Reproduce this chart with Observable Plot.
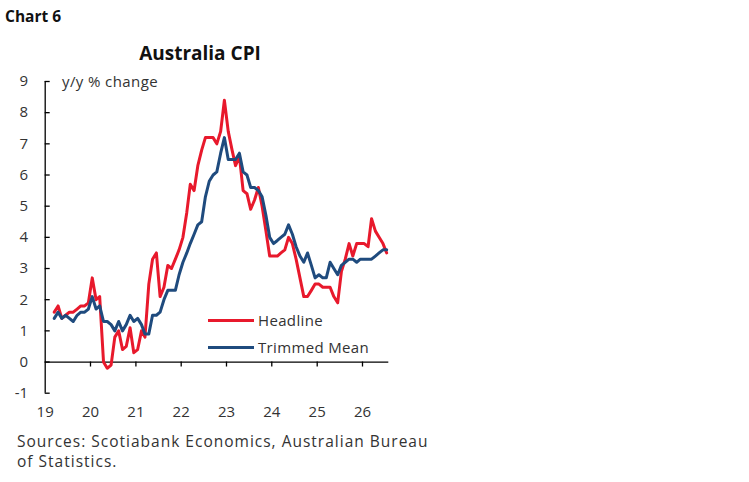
<!DOCTYPE html>
<html>
<head>
<meta charset="utf-8">
<script src="https://cdn.jsdelivr.net/npm/d3@7"></script>
<script src="https://cdn.jsdelivr.net/npm/@observablehq/plot@0.6"></script>
<style>
  html, body { margin: 0; padding: 0; background: #fff; }
  #wrap { position: relative; width: 749px; height: 482px; font-family: "Open Sans", sans-serif; color: #333; }
  #wrap svg.plot { position: absolute; left: 0; top: 0; }
  .abs { position: absolute; white-space: nowrap; }
  #chartno { left: 5px; top: 5px; font-weight: 700; font-size: 15.5px; color: #111; }
  #title { left: 0; width: 400px; top: 40px; text-align: center; font-weight: 700; font-size: 19px; color: #111; }
  #unit { left: 62px; top: 71px; font-size: 15px; letter-spacing: 0.4px; color: #333; }
  #source { left: 17px; top: 431px; font-size: 15.5px; letter-spacing: 1px; line-height: 20px; color: #333; }
  .leg { font-size: 15px; letter-spacing: 0.35px; color: #333; display: flex; align-items: center; }
  .leg span.sw { display: inline-block; width: 46px; height: 3px; margin-right: 4px; }
</style>
</head>
<body>
<div id="wrap">
  <div class="abs" id="chartno">Chart 6</div>
  <div class="abs" id="title">Australia CPI</div>
  <div class="abs" id="unit">y/y % change</div>
  <div class="abs leg" id="leg1" style="left:208px; top:310px;"><span class="sw" style="background:#E8192C"></span>Headline</div>
  <div class="abs leg" id="leg2" style="left:208px; top:337px;"><span class="sw" style="background:#1F4B7E"></span>Trimmed Mean</div>
  <div class="abs" id="source">Sources: Scotiabank Economics, Australian Bureau<br>of Statistics.</div>
</div>
<script>
// Monthly series, first observation March 2019
const startYear = 2019;
const startMonth = 2; // 0-based month index (March)
const headline = [
  1.6, 1.8, 1.4, 1.5, 1.6, 1.6, 1.7, 1.8, 1.8, 1.9,
  2.7, 2.0, 2.1, 0.0, -0.2, -0.1, 0.8, 1.0, 0.4, 0.5,
  1.1, 0.3, 0.4, 1.0, 0.8, 2.5, 3.3, 3.5, 2.1, 2.4,
  3.1, 3.0, 3.3, 3.6, 4.0, 4.8, 5.7, 5.5, 6.3, 6.8,
  7.2, 7.2, 7.2, 7.0, 7.4, 8.4, 7.4, 6.8, 6.3, 6.6,
  5.5, 5.4, 4.9, 5.2, 5.6, 5.0, 4.2, 3.4, 3.4, 3.4,
  3.5, 3.6, 4.0, 3.8, 3.3, 2.7, 2.1, 2.1, 2.3, 2.5,
  2.5, 2.4, 2.4, 2.4, 2.1, 1.9, 2.9, 3.3, 3.8, 3.4,
  3.8, 3.8, 3.8, 3.7, 4.6, 4.2, 4.0, 3.8, 3.5
];
const trimmedMean = [
  1.4, 1.6, 1.4, 1.5, 1.4, 1.3, 1.5, 1.6, 1.6, 1.7,
  2.1, 1.7, 1.8, 1.3, 1.3, 1.2, 1.0, 1.3, 1.0, 1.2,
  1.5, 1.3, 1.4, 1.2, 0.9, 0.9, 1.5, 1.5, 1.6, 2.0,
  2.3, 2.3, 2.3, 2.8, 3.2, 3.5, 3.8, 4.1, 4.4, 4.5,
  5.3, 5.8, 6.0, 6.1, 6.7, 7.2, 6.5, 6.5, 6.5, 6.7,
  6.1, 6.0, 5.6, 5.6, 5.5, 5.3, 4.7, 4.0, 3.8, 3.9,
  4.0, 4.1, 4.4, 4.1, 3.7, 3.4, 3.2, 3.5, 3.1, 2.7,
  2.8, 2.7, 2.7, 3.2, 3.0, 2.8, 3.1, 3.2, 3.3, 3.3,
  3.2, 3.3, 3.3, 3.3, 3.3, 3.4, 3.5, 3.6, 3.6
];
const yearTicks = [2019, 2020, 2021, 2022, 2023, 2024, 2025, 2026];
const yTicks = [-1, 0, 1, 2, 3, 4, 5, 6, 7, 8, 9];
const seriesNames = ["Headline", "Trimmed Mean"];
const seriesColors = ["#E8192C", "#1F4B7E"];

const monthDate = (i) => new Date(Date.UTC(startYear, startMonth + i, 15));
const rows = [];
headline.forEach((v, i) => rows.push({date: monthDate(i), value: v, series: seriesNames[0]}));
trimmedMean.forEach((v, i) => rows.push({date: monthDate(i), value: v, series: seriesNames[1]}));
const tickDates = yearTicks.map(y => new Date(Date.UTC(y, 0, 1)));

const chart = Plot.plot({
  width: 749,
  height: 482,
  marginLeft: 44.7,
  marginRight: 360.7,
  marginTop: 81,
  marginBottom: 89.3,
  style: {fontFamily: "Open Sans, sans-serif", fontSize: "15px", color: "#333", background: "transparent"},
  x: {type: "utc", domain: [new Date(Date.UTC(2019, 0, 1)), new Date(Date.UTC(2026, 7, 1))]},
  y: {domain: [-1, 9]},
  color: {domain: seriesNames, range: seriesColors},
  marks: [
    Plot.axisY({ticks: yTicks, tickSize: 0, tickPadding: 17, tickFormat: d => String(d), fill: "#333", label: null}),
    Plot.axisX({ticks: tickDates, tickSize: 0, tickPadding: 13, tickFormat: d => String(d.getUTCFullYear()).slice(2), fill: "#333", label: null}),
    Plot.ruleX([tickDates[0]], {stroke: "#000", strokeWidth: 1.3}),
    Plot.ruleY(yTicks, {x1: tickDates[0], x2: tickDates[0], insetRight: -5, stroke: "#000", strokeWidth: 1.3}),
    Plot.ruleY([0], {stroke: "#000", strokeWidth: 1.3}),
    Plot.ruleX(tickDates.slice(1), {y1: 0, y2: 0, insetBottom: -5, stroke: "#000", strokeWidth: 1.3}),
    Plot.line(rows, {x: "date", y: "value", z: "series", stroke: "series", strokeWidth: 3, strokeLinejoin: "round"})
  ]
});
chart.classList.add("plot");
document.getElementById("wrap").prepend(chart);
</script>
</body>
</html>
